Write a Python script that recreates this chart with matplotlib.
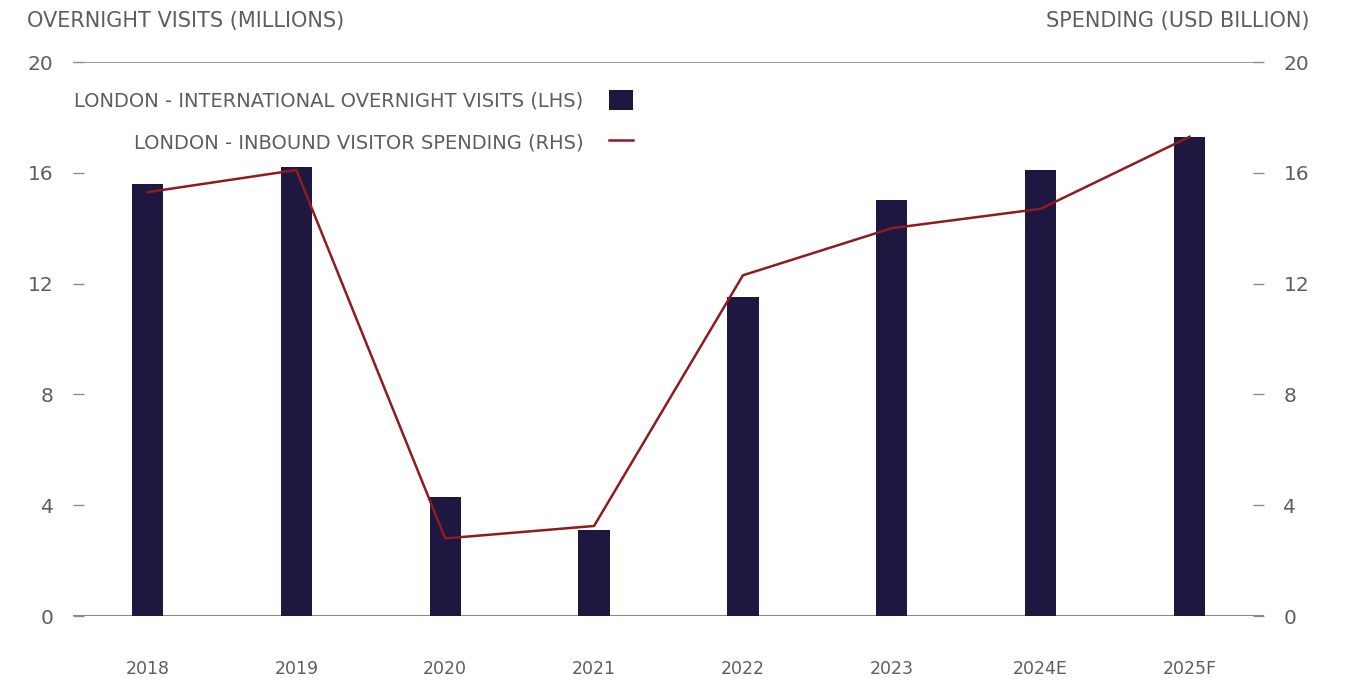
import numpy as np
import matplotlib.pyplot as plt
from matplotlib.patches import Patch
from matplotlib.lines import Line2D

# London visitor data
years = ["2018", "2019", "2020", "2021", "2022", "2023", "2024E", "2025F"]
visits = [15.6, 16.2, 4.3, 3.1, 11.5, 15.0, 16.1, 17.3]      # millions (LHS)
spending = [15.3, 16.1, 2.8, 3.25, 12.3, 14.0, 14.7, 17.3]   # USD billion (RHS)

bar_color = "#1e1740"
line_color = "#8e1b20"
text_color = "#5e5e5e"
rule_color = "#8c8c8c"

plt.rcParams["font.family"] = ["DejaVu Sans"]
plt.rcParams["font.size"] = 14

fig = plt.figure(figsize=(13.48, 6.81), dpi=100)
ax = fig.add_axes([73 / 1348, 65 / 681, (1264 - 73) / 1348, 554 / 681])
ax2 = ax.twinx()

x = np.arange(len(years))
ax.bar(x, visits, width=0.21, color=bar_color, zorder=2)
ax2.plot(x, spending, color=line_color, lw=1.8, zorder=3)

for a in (ax, ax2):
    a.set_ylim(0, 20)
    a.set_yticks([0, 4, 8, 12, 16, 20])
    for s in a.spines.values():
        s.set_visible(False)
ax.set_xlim(-0.5, 7.5)

# only the top and baseline rules
ax.axhline(0, color=rule_color, lw=1.5, zorder=1)
ax.axhline(20, color=rule_color, lw=1.2, zorder=1)

ax.set_xticks(x)
ax.set_xticklabels(years)
ax.tick_params(axis="x", length=0, pad=31.5, colors=text_color, labelsize=12.5)
ax.tick_params(axis="y", direction="in", length=8, width=1, color=rule_color,
               pad=14, labelcolor=text_color, labelsize=14.5)
ax2.tick_params(axis="y", direction="in", length=8, width=1, color=rule_color,
                pad=14, labelcolor=text_color, labelsize=14.5)

fig.text(27 / 1348, 1 - 21 / 681, "OVERNIGHT VISITS (MILLIONS)", color=text_color,
         fontsize=15, ha="left", va="center")
fig.text(1310 / 1348, 1 - 21 / 681, "SPENDING (USD BILLION)", color=text_color,
         fontsize=15, ha="right", va="center")

handles = [Patch(facecolor=bar_color, edgecolor="none"),
           Line2D([0], [0], color=line_color, lw=1.8)]
labels = ["LONDON - INTERNATIONAL OVERNIGHT VISITS (LHS)",
          "LONDON - INBOUND VISITOR SPENDING (RHS)"]
leg = ax.legend(handles, labels, loc="upper right", bbox_to_anchor=(0.4705, 0.95),
                frameon=False, markerfirst=False, borderpad=0, borderaxespad=0,
                handlelength=1.24, handleheight=1.19, handletextpad=1.34,
                labelspacing=1.12, fontsize=14)
for t in leg.get_texts():
    t.set_color(text_color)

fig.savefig("out.png", dpi=100)
plt.close(fig)
